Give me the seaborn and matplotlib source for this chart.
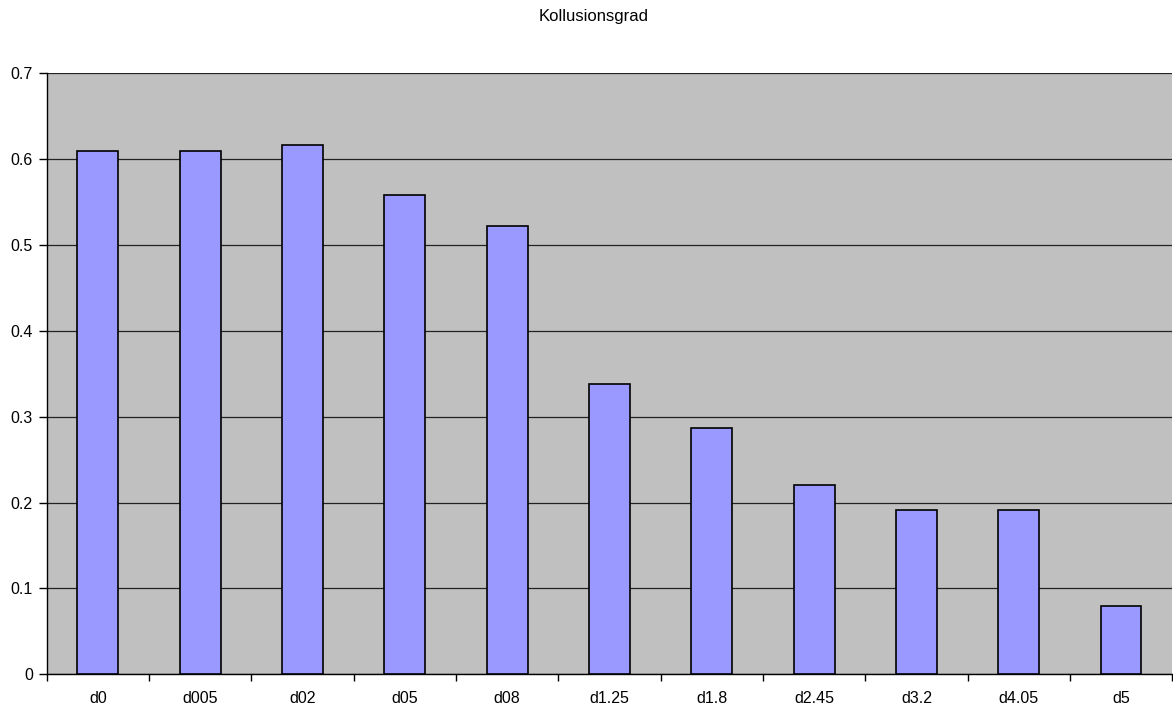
import numpy as np
import pandas as pd
import matplotlib
matplotlib.use("Agg")
import matplotlib.pyplot as plt
from matplotlib.ticker import MultipleLocator, FixedLocator
import seaborn as sns

# data
categories = ["d0", "d005", "d02", "d05", "d08", "d1.25", "d1.8", "d2.45", "d3.2", "d4.05", "d5"]
kollusionsgrad = [0.61, 0.61, 0.617, 0.558, 0.522, 0.338, 0.287, 0.220, 0.191, 0.191, 0.080]

df = pd.DataFrame({"Lauf": categories, "Kollusionsgrad": kollusionsgrad})

sns.set_style("white", {"axes.facecolor": "#C0C0C0"})
plt.rcParams["font.family"] = ["Liberation Sans", "DejaVu Sans"]
plt.rcParams["text.color"] = "black"
plt.rcParams["xtick.color"] = "black"
plt.rcParams["ytick.color"] = "black"

fig = plt.figure(figsize=(11.73, 7.08), dpi=100)
ax = fig.add_axes([0.0398, 0.0475, 0.9595, 0.849])

sns.barplot(data=df, x="Lauf", y="Kollusionsgrad", color="#9999FF",
            saturation=1, width=0.4, edgecolor="black", linewidth=1.2, ax=ax, zorder=3)

ax.set_xlim(-0.5, len(categories) - 0.5)
ax.set_ylim(0, 0.7)
ax.yaxis.set_major_locator(MultipleLocator(0.1))
ax.set_yticklabels(["0" if t == 0 else f"{t:.1f}" for t in ax.get_yticks()])
ax.grid(axis="y", color="#222222", linewidth=0.9, zorder=1)
ax.set_axisbelow(True)

# tick marks between categories like the original
ax.xaxis.set_minor_locator(FixedLocator(np.arange(-0.5, len(categories), 1.0)))
ax.tick_params(axis="x", which="major", bottom=True, length=0, pad=12, labelsize=11.5)
ax.tick_params(axis="x", which="minor", bottom=True, length=5, width=1, color="black", direction="out")
ax.tick_params(axis="y", left=True, length=6, width=1, color="black", direction="out", pad=4, labelsize=11.5)

for side in ["top", "right"]:
    ax.spines[side].set_visible(False)
for side in ["left", "bottom"]:
    ax.spines[side].set_color("black")
    ax.spines[side].set_linewidth(1)

ax.set_xlabel("")
ax.set_ylabel("")
fig.suptitle("Kollusionsgrad", x=0.506, y=0.987, fontsize=12)

fig.savefig("out.png", dpi=100)
